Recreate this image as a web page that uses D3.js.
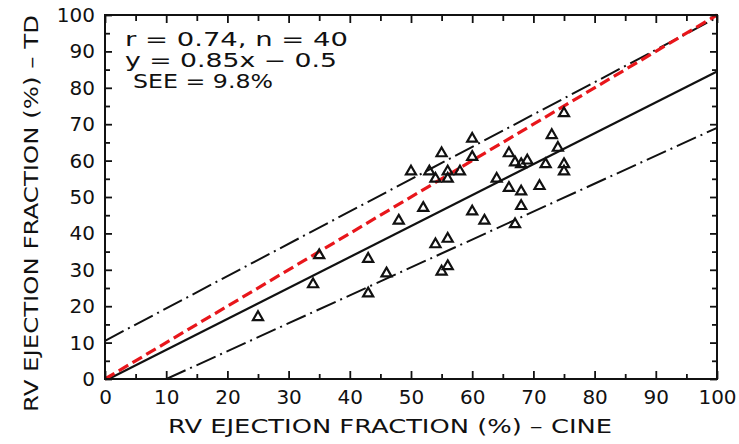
<!DOCTYPE html>
<html>
<head>
<meta charset="utf-8">
<script src="https://cdn.jsdelivr.net/npm/d3@7"></script>
<style>
  html, body { margin: 0; padding: 0; background: #fff; }
  svg { display: block; }
  text { font-family: "DejaVu Sans", "Liberation Sans", Arial, sans-serif; fill: #111; }
</style>
</head>
<body>
<svg id="chart" width="739" height="444"></svg>
<script>
// RV ejection fraction: cine (x) vs TD (y)
const cineEF = [25, 34, 35, 43, 43, 46, 48, 50, 52, 53, 54, 55, 56, 56, 58, 60, 60, 64, 60, 62,
                54, 56, 56, 55, 75, 73, 74, 66, 67, 68, 69, 72, 75, 75, 66, 68, 71, 68, 67];
const tdEF   = [17, 26, 34, 33, 23.5, 29, 43.5, 57, 47, 57, 55, 62, 57, 55, 57, 66, 61, 55, 46, 43.5,
                37, 38.5, 31, 29.5, 73, 67, 63.5, 62, 59.5, 59, 60, 59, 59, 57, 52.5, 51.5, 53, 47.5, 42.5];

const tickValues = [0, 10, 20, 30, 40, 50, 60, 70, 80, 90, 100];
const minorTicks = [5, 15, 25, 35, 45, 55, 65, 75, 85, 95];

// fitted lines: [slope, intercept]
const regression = [0.85, -0.5];
const upperBand  = [0.888, 10.5];
const lowerBand  = [0.767, -7.7];
const identity   = [1, 0];

const statsLines = ["r = 0.74,  n = 40", "y = 0.85x \u2212 0.5", "SEE = 9.8%"];

const svg = d3.select("#chart");
const L = 105, R = 717, T = 15, B = 379;
const x = d3.scaleLinear().domain([0, 100]).range([L, R]);
const y = d3.scaleLinear().domain([0, 100]).range([B, T]);

svg.append("defs").append("clipPath").attr("id", "plotClip")
  .append("rect").attr("x", L).attr("y", T).attr("width", R - L).attr("height", B - T);

const plot = svg.append("g").attr("clip-path", "url(#plotClip)");

function lineSegment(coef) {
  const [m, c] = coef;
  // clip the line to the 0..100 square
  let x0 = 0, x1 = 100;
  if (c < 0) x0 = -c / m;
  if (m * 100 + c > 100) x1 = (100 - c) / m;
  return [[x0, m * x0 + c], [x1, m * x1 + c]];
}
const lineGen = d3.line().x(d => x(d[0])).y(d => y(d[1]));

// prediction bands (dash-dot)
[upperBand, lowerBand].forEach(coef => {
  plot.append("path")
    .attr("d", lineGen(lineSegment(coef)))
    .attr("fill", "none").attr("stroke", "#111").attr("stroke-width", 2)
    .attr("stroke-dasharray", "21,5,2,5");
});

// regression line
plot.append("path")
  .attr("d", lineGen(lineSegment(regression)))
  .attr("fill", "none").attr("stroke", "#111").attr("stroke-width", 2.2);

// line of identity
svg.append("path")
  .attr("d", lineGen(lineSegment(identity)))
  .attr("fill", "none").attr("stroke", "#e8161b").attr("stroke-width", 3.2)
  .attr("stroke-dasharray", "11,5");

// data points
const pts = cineEF.map((v, i) => [v, tdEF[i]]);
const tri = d3.symbol().type(d3.symbolTriangle).size(44);
svg.append("g").selectAll("path").data(pts).join("path")
  .attr("d", tri)
  .attr("transform", d => `translate(${x(d[0])},${y(d[1])})`)
  .attr("fill", "none").attr("stroke", "#111").attr("stroke-width", 2.2);

// frame
svg.append("rect").attr("x", L).attr("y", T).attr("width", R - L).attr("height", B - T)
  .attr("fill", "none").attr("stroke", "#111").attr("stroke-width", 2);

// inward ticks on all four sides
const axes = [
  d3.axisBottom(x).tickValues(tickValues).tickSize(-8).tickFormat(""),
  d3.axisTop(x).tickValues(tickValues).tickSize(-8).tickFormat(""),
  d3.axisLeft(y).tickValues(tickValues).tickSize(-7).tickFormat(""),
  d3.axisRight(y).tickValues(tickValues).tickSize(-7).tickFormat("")
];
const minorAxes = [
  d3.axisBottom(x).tickValues(minorTicks).tickSize(-5).tickFormat(""),
  d3.axisTop(x).tickValues(minorTicks).tickSize(-6).tickFormat(""),
  d3.axisLeft(y).tickValues(minorTicks).tickSize(-5).tickFormat(""),
  d3.axisRight(y).tickValues(minorTicks).tickSize(-5).tickFormat("")
];
const pos = [`translate(0,${B})`, `translate(0,${T})`, `translate(${L},0)`, `translate(${R},0)`];
[axes, minorAxes].forEach(set => set.forEach((ax, i) => {
  const g = svg.append("g").attr("transform", pos[i]).call(ax);
  g.select(".domain").remove();
  g.selectAll("line").attr("stroke", "#111").attr("stroke-width", 1.8);
}));

// tick labels
const tickFont = "DejaVu Sans, Liberation Sans, Arial, sans-serif";
const xl = svg.append("g").attr("transform", `translate(0,${B})`)
  .call(d3.axisBottom(x).tickValues(tickValues).tickSize(0).tickPadding(11));
xl.select(".domain").remove();
xl.selectAll("text").attr("font-size", 20).attr("font-family", tickFont).attr("fill", "#111");

const yl = svg.append("g").attr("transform", `translate(${L},0)`)
  .call(d3.axisLeft(y).tickValues(tickValues).tickSize(0).tickPadding(10));
yl.select(".domain").remove();
yl.selectAll("text").attr("font-size", 20).attr("font-family", tickFont).attr("fill", "#111");

// axis titles
svg.append("text").attr("x", 168).attr("y", 433)
  .attr("font-size", 20).attr("textLength", 444).attr("lengthAdjust", "spacingAndGlyphs")
  .text("RV EJECTION FRACTION (%)  \u2013  CINE");
svg.append("text").attr("transform", "translate(38,412) rotate(-90)")
  .attr("font-size", 20).attr("textLength", 397).attr("lengthAdjust", "spacingAndGlyphs")
  .text("RV EJECTION FRACTION (%)  \u2013  TD");

// statistics
const statsX = [125, 125, 133];
const statsY = [46, 67, 88];
const statsW = [223, 212, 140];
statsLines.forEach((s, i) => {
  svg.append("text").attr("x", statsX[i]).attr("y", statsY[i])
    .attr("font-size", 19).attr("textLength", statsW[i]).attr("lengthAdjust", "spacingAndGlyphs")
    .text(s);
});
</script>
</body>
</html>
